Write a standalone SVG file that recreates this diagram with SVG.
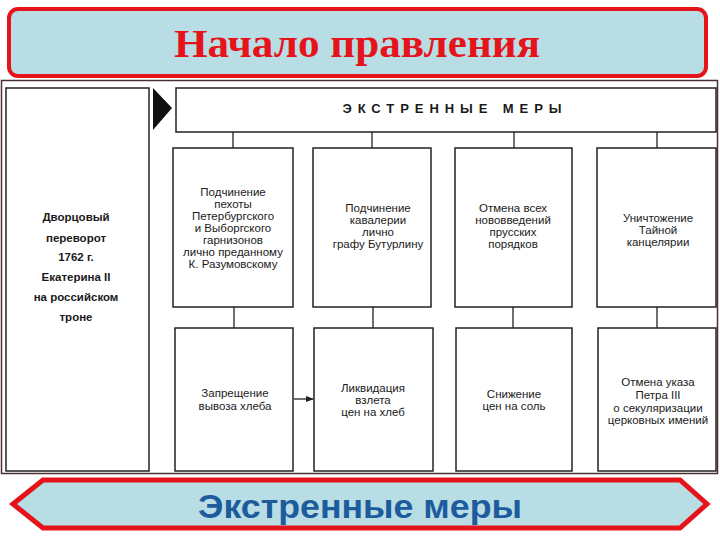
<svg xmlns="http://www.w3.org/2000/svg" width="720" height="540" viewBox="0 0 720 540">
<defs>
<style>
.box{fill:#fff;stroke:#222;stroke-width:1.5}
.t{font-family:"Liberation Sans",Arial,sans-serif;font-size:11.5px;fill:#1a1a1a;text-anchor:middle}
.b{font-weight:bold}
.con{stroke:#222;stroke-width:1.3;fill:none}
</style>
<marker id="ah" markerWidth="8" markerHeight="6" refX="7" refY="3" orient="auto" markerUnits="userSpaceOnUse">
<path d="M0,0 L8,3 L0,6 Z" fill="#222"/>
</marker>
</defs>
<rect x="0" y="0" width="720" height="540" fill="#fff"/>

<g id="title">
<rect x="9" y="9" width="697" height="67" rx="9" fill="#b9dde4" stroke="#e5141b" stroke-width="4"/>
<text x="357" y="57" font-family="'Liberation Serif','Times New Roman',serif" font-size="40" font-weight="bold" fill="#e5141b" text-anchor="middle" textLength="366" lengthAdjust="spacingAndGlyphs">Начало правления</text>
</g>

<g id="frame">
<rect x="1.5" y="80.5" width="716" height="393" fill="#fff" stroke="#4a3030" stroke-width="1.5"/>
</g>

<g id="left">
<rect class="box" x="6" y="88" width="143" height="383"/>
<text class="t b" x="76" y="221">Дворцовый</text>
<text class="t b" x="76" y="242">переворот</text>
<text class="t b" x="76" y="261">1762 г.</text>
<text class="t b" x="76" y="281">Екатерина II</text>
<text class="t b" x="76" y="301">на российском</text>
<text class="t b" x="76" y="321">троне</text>
</g>

<g id="pointer">
<polygon points="153,88 172,108 153,130" fill="#111"/>
</g>

<g id="header">
<rect class="box" x="176" y="88" width="540" height="44"/>
<text class="t b" x="452" y="113" style="font-size:13px" textLength="219" lengthAdjust="spacing">ЭКСТРЕННЫЕ МЕРЫ</text>
</g>

<g id="connectors">
<line class="con" x1="233" y1="132" x2="233" y2="148"/>
<line class="con" x1="372" y1="132" x2="372" y2="148"/>
<line class="con" x1="514" y1="132" x2="514" y2="148"/>
<line class="con" x1="657" y1="132" x2="657" y2="148"/>
<line class="con" x1="234" y1="307" x2="234" y2="328"/>
<line class="con" x1="373" y1="307" x2="373" y2="328"/>
<line class="con" x1="513" y1="307" x2="513" y2="328"/>
<line class="con" x1="657" y1="307" x2="657" y2="328"/>
<line class="con" x1="294" y1="399" x2="313" y2="399" marker-end="url(#ah)"/>
</g>

<g id="m1">
<rect class="box" x="173" y="148" width="120" height="159"/>
<text class="t" x="233" y="196">Подчинение</text>
<text class="t" x="233" y="208">пехоты</text>
<text class="t" x="233" y="220">Петербургского</text>
<text class="t" x="233" y="232">и Выборгского</text>
<text class="t" x="233" y="244">гарнизонов</text>
<text class="t" x="233" y="256">лично преданному</text>
<text class="t" x="233" y="268">К. Разумовскому</text>
</g>

<g id="m2">
<rect class="box" x="313" y="148" width="118" height="159"/>
<text class="t" x="378" y="212">Подчинение</text>
<text class="t" x="378" y="224">кавалерии</text>
<text class="t" x="378" y="236">лично</text>
<text class="t" x="378" y="248">графу Бутурлину</text>
</g>

<g id="m3">
<rect class="box" x="455" y="148" width="117" height="159"/>
<text class="t" x="513" y="212">Отмена всех</text>
<text class="t" x="513" y="224">нововведений</text>
<text class="t" x="513" y="236">прусских</text>
<text class="t" x="513" y="248">порядков</text>
</g>

<g id="m4">
<rect class="box" x="597" y="148" width="119" height="159"/>
<text class="t" x="658" y="222">Уничтожение</text>
<text class="t" x="658" y="234">Тайной</text>
<text class="t" x="658" y="246">канцелярии</text>
</g>

<g id="m5">
<rect class="box" x="175" y="328" width="118" height="143"/>
<text class="t" x="235" y="397">Запрещение</text>
<text class="t" x="235" y="410">вывоза хлеба</text>
</g>

<g id="m6">
<rect class="box" x="314" y="328" width="119" height="143"/>
<text class="t" x="373" y="392">Ликвидация</text>
<text class="t" x="373" y="404">взлета</text>
<text class="t" x="373" y="416">цен на хлеб</text>
</g>

<g id="m7">
<rect class="box" x="456" y="328" width="116" height="143"/>
<text class="t" x="514" y="398">Снижение</text>
<text class="t" x="514" y="410">цен на соль</text>
</g>

<g id="m8">
<rect class="box" x="598" y="328" width="118" height="143"/>
<text class="t" x="658" y="386">Отмена указа</text>
<text class="t" x="658" y="399">Петра III</text>
<text class="t" x="658" y="412">о секуляризации</text>
<text class="t" x="658" y="424">церковных имений</text>
</g>

<g id="banner">
<polygon points="13,504 43,480 680,480 707,504 680,528 43,528" fill="#b9dde4" stroke="#e5141b" stroke-width="5" stroke-linejoin="miter"/>
<text x="360" y="518" font-family="'Liberation Sans',Arial,sans-serif" font-size="33" font-weight="bold" fill="#1d5c9c" text-anchor="middle" textLength="324" lengthAdjust="spacingAndGlyphs">Экстренные меры</text>
</g>
</svg>
